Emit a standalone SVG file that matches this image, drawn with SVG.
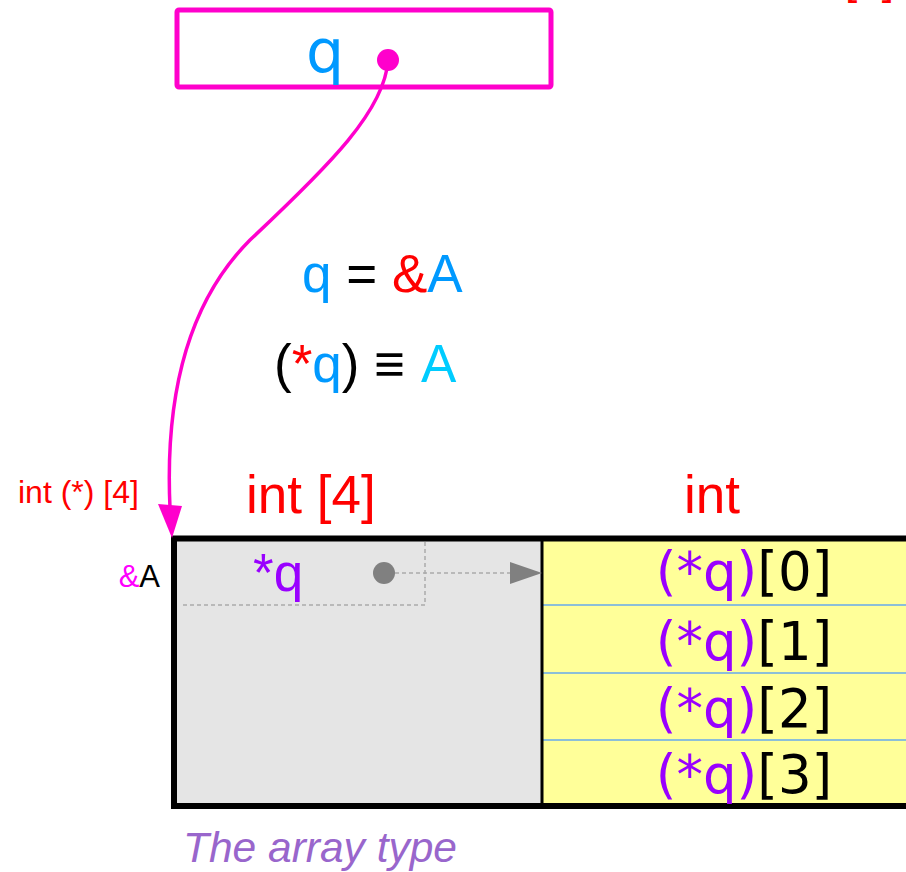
<svg xmlns="http://www.w3.org/2000/svg" width="906" height="872" viewBox="0 0 906 872">
<style>
.sans{font-family:"Liberation Sans",Arial,sans-serif}
.dv{font-family:"DejaVu Sans","Liberation Sans",sans-serif}
.red{fill:#ff0000}
.blue{fill:#0099ff}
.purple{fill:#9900ff}
.dash{stroke:#aaaaaa;stroke-width:1.5;stroke-dasharray:4,3;fill:none}
.row{stroke:#66aaee;stroke-width:1.5}
</style>
<rect width="906" height="872" fill="#ffffff"/>
<text class="sans red" x="845" y="-6" font-size="44">[4]</text>
<g id="q-box">
  <rect x="177" y="10" width="374" height="77" rx="2" fill="#ffffff" stroke="#ff00cc" stroke-width="5"/>
  <text class="dv blue" x="325" y="72" font-size="60" text-anchor="middle">q</text>
  <circle cx="388" cy="60" r="11" fill="#ff00cc"/>
</g>
<g id="equations" class="sans" font-size="53">
  <text x="302" y="292"><tspan class="blue">q</tspan> = <tspan class="red">&amp;</tspan><tspan class="blue">A</tspan></text>
  <text x="274" y="382">(<tspan class="red">*</tspan><tspan class="blue">q</tspan>) ≡ <tspan fill="#00ccff" dx="4">A</tspan></text>
</g>
<g id="labels" class="sans">
  <text class="red" x="18" y="503" font-size="32">int (*) [4]</text>
  <text class="red" x="246" y="513" font-size="53">int [4]</text>
  <text class="red" x="712" y="513" font-size="53" text-anchor="middle">int</text>
  <text x="160" y="587" font-size="31" text-anchor="end"><tspan fill="#ff00ff">&amp;</tspan>A</text>
</g>
<g id="array-A">
  <rect x="174" y="538.5" width="368" height="267.5" fill="#e5e5e5"/>
  <rect x="542" y="538.5" width="400" height="267.5" fill="#ffff99"/>
  <line class="row" x1="542" y1="605" x2="906" y2="605"/>
  <line class="row" x1="542" y1="673" x2="906" y2="673"/>
  <line class="row" x1="542" y1="740" x2="906" y2="740"/>
  <line x1="542" y1="538" x2="542" y2="806" stroke="#000" stroke-width="3"/>
  <rect x="174" y="538.5" width="800" height="267.5" fill="none" stroke="#000" stroke-width="6"/>
</g>
<g id="deref-q">
  <text class="sans purple" x="253" y="591" font-size="53">*q</text>
  <circle cx="384" cy="573" r="11" fill="#808080"/>
</g>
<g id="elements" class="dv" font-size="53" text-anchor="middle">
  <text x="744" y="590"><tspan class="purple">(*q)</tspan>[0]</text>
  <text x="744" y="660"><tspan class="purple">(*q)</tspan>[1]</text>
  <text x="744" y="727"><tspan class="purple">(*q)</tspan>[2]</text>
  <text x="744" y="793"><tspan class="purple">(*q)</tspan>[3]</text>
</g>
<g id="connectors">
  <path d="M388,60 C385,110 330,165 250,240 C185,305 165,400 170,508" fill="none" stroke="#ff00cc" stroke-width="3.5"/>
  <polygon points="158,504 182,506 172,538" fill="#ff00cc"/>
  <path class="dash" d="M395,573 H512 M425,542 V605 H180"/>
  <polygon points="510,562 542,573 510,584" fill="#808080"/>
</g>
<text class="sans" x="183" y="862" font-size="42.5" font-style="italic" fill="#9966cc">The array type</text>
</svg>
